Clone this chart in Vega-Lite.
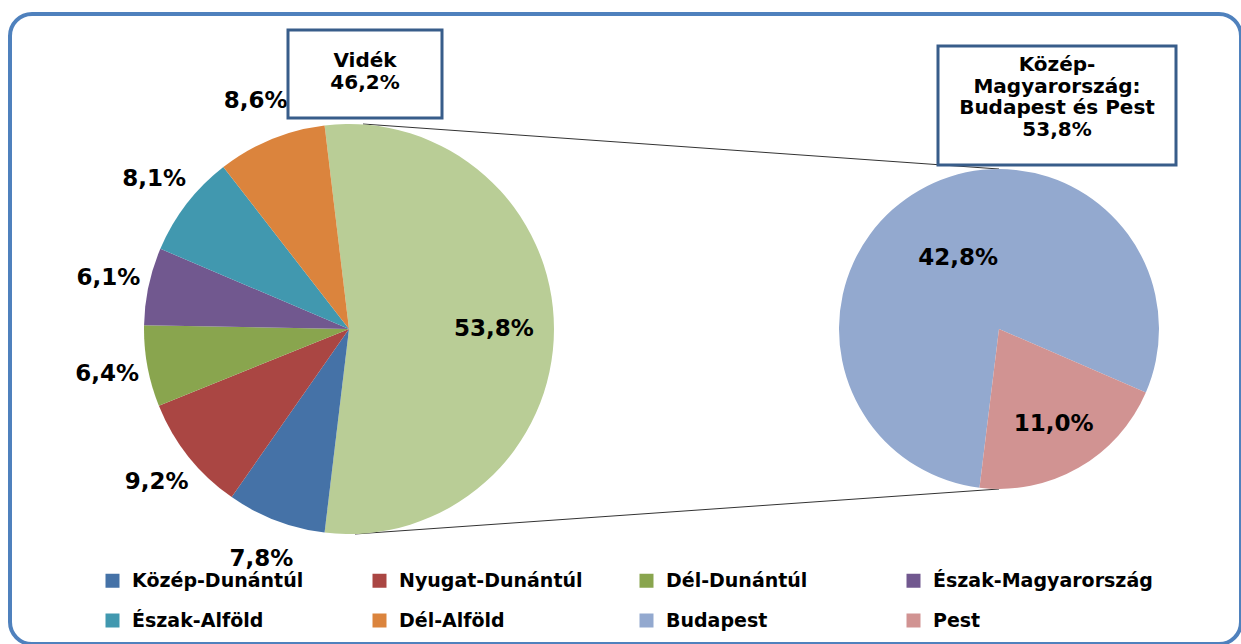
{
  "$schema": "https://vega.github.io/schema/vega-lite/v6.json",
  "width": 1231,
  "height": 630,
  "autosize": {"type": "none"},
  "padding": {"left": 10, "top": 14, "right": 0, "bottom": 0},
  "background": "#ffffff",
  "config": {
    "view": {"stroke": "#4F81BD", "strokeWidth": 4, "cornerRadius": 22, "fill": "#ffffff"},
    "font": "DejaVu Sans",
    "text": {"font": "DejaVu Sans"}
  },
  "datasets": {
    "videk": [
      {"pie": "Vidék", "region": "Közép-Magyarország", "share": 53.8, "label": "53,8%", "ord": 0},
      {"pie": "Vidék", "region": "Közép-Dunántúl", "share": 7.8, "label": "7,8%", "ord": 1},
      {"pie": "Vidék", "region": "Nyugat-Dunántúl", "share": 9.2, "label": "9,2%", "ord": 2},
      {"pie": "Vidék", "region": "Dél-Dunántúl", "share": 6.4, "label": "6,4%", "ord": 3},
      {"pie": "Vidék", "region": "Észak-Magyarország", "share": 6.1, "label": "6,1%", "ord": 4},
      {"pie": "Vidék", "region": "Észak-Alföld", "share": 8.1, "label": "8,1%", "ord": 5},
      {"pie": "Vidék", "region": "Dél-Alföld", "share": 8.6, "label": "8,6%", "ord": 6}
    ],
    "km": [
      {"pie": "Közép-Magyarország", "region": "Budapest", "share": 42.8, "label": "42,8%", "ord": 0},
      {"pie": "Közép-Magyarország", "region": "Pest", "share": 11.0, "label": "11,0%", "ord": 1}
    ],
    "links": [
      {"from": "Vidék", "to": "Közép-Magyarország"}
    ]
  },
  "resolve": {"scale": {"theta": "independent"}},
  "layer": [
    {
      "data": {"name": "links"},
      "mark": {"type": "rule", "color": "#333333", "strokeWidth": 1, "xOffset": 14},
      "encoding": {
        "x": {"field": "from", "type": "nominal", "scale": {"type": "point", "padding": 0, "domain": ["Vidék", "Közép-Magyarország"], "range": [339, 989]}, "axis": null},
        "x2": {"field": "to"},
        "y": {"value": {"expr": "height/2-205"}},
        "y2": {"value": {"expr": "height/2-160"}}
      }
    },
    {
      "data": {"name": "links"},
      "mark": {"type": "rule", "color": "#333333", "strokeWidth": 1, "xOffset": 6},
      "encoding": {
        "x": {"field": "from", "type": "nominal", "scale": {"type": "point", "padding": 0, "domain": ["Vidék", "Közép-Magyarország"], "range": [339, 989]}, "axis": null},
        "x2": {"field": "to"},
        "y": {"value": {"expr": "height/2+205"}},
        "y2": {"value": {"expr": "height/2+160"}}
      }
    },
    {
      "data": {"name": "videk"},
      "encoding": {
        "x": {"field": "pie", "type": "nominal", "scale": {"type": "point", "padding": 0, "domain": ["Vidék", "Közép-Magyarország"], "range": [339, 989]}, "axis": null},
        "theta": {"field": "share", "type": "quantitative", "stack": true, "scale": {"range": [-0.11938, 6.16381]}},
        "order": {"field": "ord", "type": "quantitative"},
        "detail": {"field": "region", "type": "nominal"}
      },
      "layer": [
        {
          "mark": {"type": "arc", "outerRadius": 205},
          "encoding": {
            "color": {
              "field": "region", "type": "nominal",
              "scale": {
                "domain": ["Közép-Magyarország", "Közép-Dunántúl", "Nyugat-Dunántúl", "Dél-Dunántúl", "Észak-Magyarország", "Észak-Alföld", "Dél-Alföld", "Budapest", "Pest"],
                "range": ["#B9CD96", "#4572A7", "#AA4643", "#89A54E", "#71588F", "#4198AF", "#DB843D", "#93A9CF", "#D19392"]
              },
              "legend": {
                "values": ["Közép-Dunántúl", "Nyugat-Dunántúl", "Dél-Dunántúl", "Észak-Magyarország", "Észak-Alföld", "Dél-Alföld", "Budapest", "Pest"],
                "title": null, "orient": "none", "legendX": 93, "legendY": 557, "direction": "horizontal",
                "columns": 4, "gridAlign": "all", "symbolType": "square", "symbolSize": 196, "symbolStrokeWidth": 0,
                "labelFont": "DejaVu Sans", "labelFontSize": 19, "labelFontWeight": "bold", "labelColor": "#000000",
                "labelOffset": 10, "columnPadding": 18, "rowPadding": 20, "labelLimit": 400, "padding": 0
              }
            }
          }
        },
        {
          "mark": {"type": "text", "radius": 246, "fontSize": 23, "fontWeight": "bold", "color": "#000000"},
          "encoding": {"text": {"condition": {"test": "datum.share < 20", "field": "label", "type": "nominal"}, "value": ""}}
        },
        {
          "mark": {"type": "text", "radius": 145, "fontSize": 23, "fontWeight": "bold", "color": "#000000"},
          "encoding": {"text": {"condition": {"test": "datum.share >= 20", "field": "label", "type": "nominal"}, "value": ""}}
        }
      ]
    },
    {
      "data": {"name": "km"},
      "encoding": {
        "x": {"field": "pie", "type": "nominal", "scale": {"type": "point", "padding": 0, "domain": ["Vidék", "Közép-Magyarország"], "range": [339, 989]}, "axis": null},
        "theta": {"field": "share", "type": "quantitative", "stack": true, "scale": {"range": [3.2638, 9.547]}},
        "order": {"field": "ord", "type": "quantitative"},
        "detail": {"field": "region", "type": "nominal"}
      },
      "layer": [
        {
          "mark": {"type": "arc", "outerRadius": 160},
          "encoding": {
            "color": {
              "field": "region", "type": "nominal",
              "scale": {
                "domain": ["Közép-Magyarország", "Közép-Dunántúl", "Nyugat-Dunántúl", "Dél-Dunántúl", "Észak-Magyarország", "Észak-Alföld", "Dél-Alföld", "Budapest", "Pest"],
                "range": ["#B9CD96", "#4572A7", "#AA4643", "#89A54E", "#71588F", "#4198AF", "#DB843D", "#93A9CF", "#D19392"]
              },
              "legend": {
                "values": ["Közép-Dunántúl", "Nyugat-Dunántúl", "Dél-Dunántúl", "Észak-Magyarország", "Észak-Alföld", "Dél-Alföld", "Budapest", "Pest"],
                "title": null, "orient": "none", "legendX": 93, "legendY": 557, "direction": "horizontal",
                "columns": 4, "gridAlign": "all", "symbolType": "square", "symbolSize": 196, "symbolStrokeWidth": 0,
                "labelFont": "DejaVu Sans", "labelFontSize": 19, "labelFontWeight": "bold", "labelColor": "#000000",
                "labelOffset": 10, "columnPadding": 18, "rowPadding": 20, "labelLimit": 400, "padding": 0
              }
            }
          }
        },
        {
          "mark": {"type": "text", "radius": 82, "fontSize": 23, "fontWeight": "bold", "color": "#000000"},
          "encoding": {"text": {"condition": {"test": "datum.share >= 20", "field": "label", "type": "nominal"}, "value": ""}}
        },
        {
          "mark": {"type": "text", "radius": 110, "fontSize": 23, "fontWeight": "bold", "color": "#000000"},
          "encoding": {"text": {"condition": {"test": "datum.share < 20", "field": "label", "type": "nominal"}, "value": ""}}
        }
      ]
    },
    {
      "data": {"values": [{"pie": "Vidék", "box": "Vidék\n46,2%"}]},
      "layer": [
        {
          "mark": {"type": "point", "shape": "M-1,-0.5714H1V0.5714H-1Z", "size": 23716, "filled": false, "stroke": "#385D8A", "strokeWidth": 3, "opacity": 1, "xOffset": 16, "yOffset": -255},
          "encoding": {"x": {"field": "pie", "type": "nominal", "scale": {"type": "point", "padding": 0, "domain": ["Vidék", "Közép-Magyarország"], "range": [339, 989]}, "axis": null}}
        },
        {
          "mark": {"type": "text", "fontSize": 20, "fontWeight": "bold", "color": "#000000", "lineBreak": "\n", "lineHeight": 22, "align": "center", "baseline": "middle", "xOffset": 16, "yOffset": -268},
          "encoding": {
            "x": {"field": "pie", "type": "nominal", "scale": {"type": "point", "padding": 0, "domain": ["Vidék", "Közép-Magyarország"], "range": [339, 989]}, "axis": null},
            "text": {"field": "box", "type": "nominal"}
          }
        }
      ]
    },
    {
      "data": {"values": [{"pie": "Közép-Magyarország", "box": "Közép-\nMagyarország:\nBudapest és Pest\n53,8%"}]},
      "layer": [
        {
          "mark": {"type": "point", "shape": "M-1,-0.5H1V0.5H-1Z", "size": 56644, "filled": false, "stroke": "#385D8A", "strokeWidth": 3, "opacity": 1, "xOffset": 58, "yOffset": -223.5},
          "encoding": {"x": {"field": "pie", "type": "nominal", "scale": {"type": "point", "padding": 0, "domain": ["Vidék", "Közép-Magyarország"], "range": [339, 989]}, "axis": null}}
        },
        {
          "mark": {"type": "text", "fontSize": 20, "fontWeight": "bold", "color": "#000000", "lineBreak": "\n", "lineHeight": 21.7, "align": "center", "baseline": "middle", "xOffset": 58, "yOffset": -264},
          "encoding": {
            "x": {"field": "pie", "type": "nominal", "scale": {"type": "point", "padding": 0, "domain": ["Vidék", "Közép-Magyarország"], "range": [339, 989]}, "axis": null},
            "text": {"field": "box", "type": "nominal"}
          }
        }
      ]
    }
  ]
}
